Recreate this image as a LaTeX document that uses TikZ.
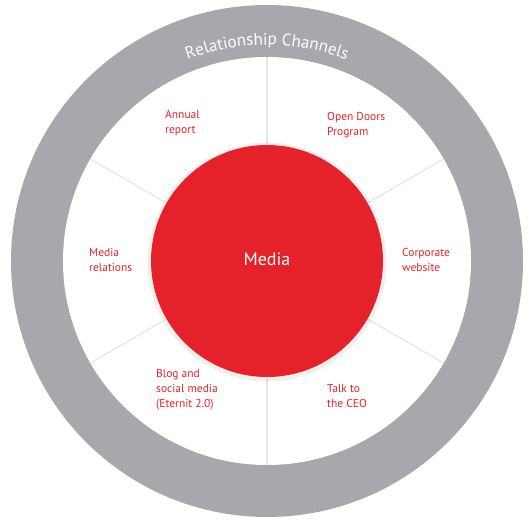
\documentclass[tikz,border=0pt]{standalone}
\usepackage{fontspec}
\setmainfont{PT Sans}
\usetikzlibrary{decorations.text,shadows}

\definecolor{ringgray}{HTML}{A7A8AB}
\definecolor{mediared}{HTML}{E52229}
\definecolor{divgray}{HTML}{E6E6E6}

\begin{document}
\begin{tikzpicture}[x=1pt,y=1pt,
disc/.style={circle,inner sep=0pt,outer sep=0pt,draw=none},
channel/.style={font=\fontsize{11.5}{15}\selectfont,text=mediared,align=left,anchor=west,inner sep=0pt},
divider/.style={draw=divgray,line width=1.2pt},
title/.style={decorate,decoration={text along path,text align=center,text color=white,
  text={|\fontsize{17}{19}\selectfont|Relationship Channels}}} ]

\useasboundingbox (-267,-268) rectangle (262,261);

\node[disc,fill=ringgray,minimum size=512pt](ring) at (0,0) {};

\node[disc,fill=white,minimum size=408pt](disk) at (0,0) {};

\foreach \a in {30,90,...,330}
  \draw[divider] (disk.center) -- (disk.\a);

\node[disc,fill=mediared,minimum size=232pt,
  drop shadow={opacity=0.12,shadow xshift=0pt,shadow yshift=-1pt,shadow scale=1.03}](core) at (0,0) {};

\node[text=white,font=\fontsize{18}{20}\selectfont,inner sep=0pt](media) at (0,2) {Media};

\path[title] (135:216) arc (135:45:216);

\node[channel](annual) at (-102,137.5) {Annual\\report};

\node[channel](opendoors) at (60,135.5) {Open Doors\\Program};

\node[channel](relations) at (-178,1.5) {Media\\relations};

\node[channel](website) at (135,1.5) {Corporate\\website};

\node[channel](blog) at (-111,-129) {Blog and\\social media\\(Eternit 2.0)};

\node[channel](ceo) at (60,-135) {Talk to\\the CEO};

\end{tikzpicture}
\end{document}
